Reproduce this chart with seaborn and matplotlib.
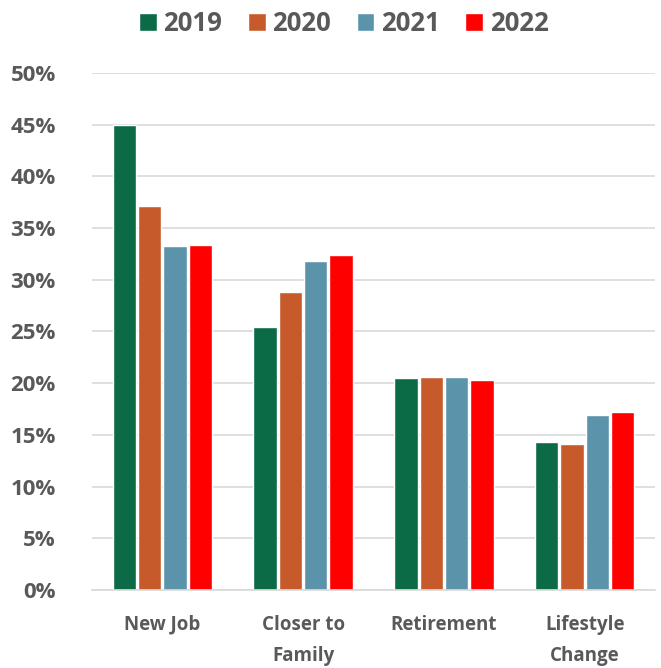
import matplotlib
matplotlib.use("Agg")
import matplotlib.pyplot as plt
import seaborn as sns
import pandas as pd
from matplotlib.ticker import FuncFormatter, MultipleLocator

categories = ["New Job", "Closer to\nFamily", "Retirement", "Lifestyle\nChange"]
years = ["2019", "2020", "2021", "2022"]
v2019 = [45.0, 25.4, 20.5, 14.3]
v2020 = [37.1, 28.8, 20.6, 14.1]
v2021 = [33.3, 31.8, 20.6, 16.9]
v2022 = [33.4, 32.4, 20.3, 17.2]
colors = ["#0B6B47", "#C65A2A", "#5B93AB", "#FF0000"]

rows = []
for y, vals in zip(years, [v2019, v2020, v2021, v2022]):
    for c, v in zip(categories, vals):
        rows.append({"cat": c, "year": y, "val": v / 100})
df = pd.DataFrame(rows)

sns.set_theme(style="white")
plt.rcParams["font.family"] = ["Open Sans", "DejaVu Sans"]

fig = plt.figure(figsize=(6.61, 6.68), dpi=100)
ax = fig.add_axes([0.139, 0.1168, 0.852, 0.7739])
sns.barplot(data=df, x="cat", y="val", hue="year", palette=colors,
            order=categories, hue_order=years, width=0.72, gap=0.08,
            saturation=1, ax=ax, legend=True)

ax.set_ylim(0, 0.5)
ax.yaxis.set_major_locator(MultipleLocator(0.05))
ax.yaxis.set_major_formatter(FuncFormatter(lambda v, p: f"{v*100:.0f}%"))
ax.grid(axis="y", color="#D9D9D9", linewidth=1.2)
ax.set_axisbelow(True)
for s in ["top", "right", "left"]:
    ax.spines[s].set_visible(False)
ax.spines["bottom"].set_color("#D9D9D9")
ax.spines["bottom"].set_linewidth(1.2)
ax.set_xlabel("")
ax.set_ylabel("")
ax.tick_params(axis="y", length=0, pad=26, labelsize=16, labelcolor="#595959")
ax.tick_params(axis="x", length=0, pad=18, labelsize=13.5, labelcolor="#595959")
for t in ax.get_yticklabels():
    t.set_fontweight("bold")
for t in ax.get_xticklabels():
    t.set_fontweight("bold")
    t.set_linespacing(1.75)

handles, labels = ax.get_legend_handles_labels()
ax.legend_.remove()
fig.legend(handles, labels, loc="upper center", bbox_to_anchor=(0.52, 1.02),
           ncol=4, frameon=False, handlelength=0.7, handleheight=0.7,
           handletextpad=0.25, columnspacing=1.0,
           prop={"size": 18.5, "weight": "bold"}, labelcolor="#595959")

fig.savefig("out.png", dpi=100)
